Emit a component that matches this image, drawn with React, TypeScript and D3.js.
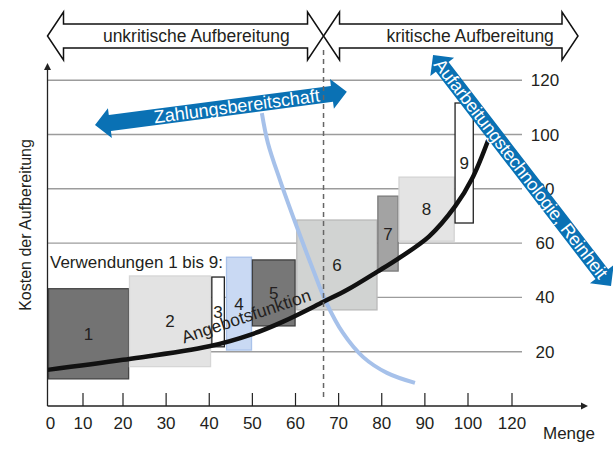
import React from 'react';
import * as d3 from 'd3';

const W = 613;
const H = 455;
const FONT = '"Liberation Sans", Arial, Helvetica, sans-serif';
const INK = '#231f20';

// x axis: the last label reads "120" although it sits one step after 100
const xTickValues = [10, 20, 30, 40, 50, 60, 70, 80, 90, 100, 110];
const xTickLabels = ['0', '10', '20', '30', '40', '50', '60', '70', '80', '90', '100', '120'];
const xLabelValues = [0, 10, 20, 30, 40, 50, 60, 70, 80, 90, 100, 110];
const yTickValues = [20, 40, 60, 80, 100, 120];

// phases on top
const phaseBounds = [0, 66.5, 125];
const phaseLabels = ['unkritische Aufbereitung', 'kritische Aufbereitung'];
const phaseLabelAt = [37, 100.5];

// Verwendungen 1 bis 9 (Menge von/bis, Kosten von/bis)
const useIds = ['1', '2', '3', '4', '5', '6', '7', '8', '9'];
const useX0 = [0.3, 21.5, 40.6, 44, 50, 60.3, 79.1, 84, 97];
const useX1 = [21.3, 40.3, 43.5, 49.8, 59.9, 78.9, 83.8, 96.8, 101.2];
const useLow = [10, 14.5, 21.8, 20.6, 29.5, 35.4, 49.7, 60.7, 67.4];
const useHigh = [43.2, 47.9, 47.5, 54.8, 53.8, 68.5, 77.3, 84.3, 111.6];
const useFill = ['#737373', '#e3e3e3', '#ffffff', '#c9d9f3', '#777777', '#d1d3d2', '#a3a3a3', '#e4e4e4', '#ffffff'];
const useStroke = ['#454545', '#d6d6d6', '#222222', '#a9c2ea', '#3f3f3f', '#b9b9b9', '#7a7a7a', '#d3d3d3', '#222222'];

// Angebotsfunktion
const supplyX = [0, 20, 40, 50, 57, 66.5, 72, 79, 84, 91, 97, 101, 104.6];
const supplyY = [13.3, 17, 22, 26.5, 31, 38.4, 42.8, 49.5, 54.5, 62.5, 73.5, 84, 98];

// Zahlungsbereitschaft (Nachfrage)
const demandX = [52.2, 53.6, 56.4, 60.3, 64.1, 67.2, 71, 75.7, 81.2, 87.7];
const demandY = [107.9, 96.9, 83.2, 66, 50.1, 37.9, 26.9, 18, 12.2, 8.5];

// blue double arrows: [x0, y0, x1, y1] in data units
const payArrow = [13, 103.5, 71.9, 115.7];
const techArrow = [91.9, 129.3, 132.5, 44.2];

const x = d3.scaleLinear().domain([0, 10, 20, 100, 110]).range([47.5, 83, 123, 468, 512]);
const y = d3.scaleLinear().domain([0, 120]).range([406, 80.2]);

function dblArrow(len: number, shaft: number, head: number, headLen: number) {
  const s = shaft / 2;
  const h = head / 2;
  const pts = [
    [0, 0], [headLen, -h], [headLen, -s], [len - headLen, -s], [len - headLen, -h],
    [len, 0], [len - headLen, h], [len - headLen, s], [headLen, s], [headLen, h],
  ];
  return 'M' + pts.map(p => p.join(',')).join('L') + 'Z';
}

function BlueArrow({ a, label, shift, textLen }: { a: number[]; label: string; shift: number; textLen?: number }) {
  const x0 = x(a[0]), y0 = y(a[1]), x1 = x(a[2]), y1 = y(a[3]);
  const len = Math.hypot(x1 - x0, y1 - y0);
  const ang = (Math.atan2(y1 - y0, x1 - x0) * 180) / Math.PI;
  return (
    <g transform={`translate(${x0},${y0}) rotate(${ang})`}>
      <path d={dblArrow(len, 16, 30, 15)} fill="#0a71b4" />
      <text
        x={len / 2 + shift}
        y={6}
        textAnchor="middle"
        fill="#ffffff"
        fontSize={18}
        textLength={textLen}
        lengthAdjust="spacing"
      >
        {label}
      </text>
    </g>
  );
}

export default function App() {
  const supplyLine = d3.line<number>().x(i => x(supplyX[i])).y(i => y(supplyY[i])).curve(d3.curveCatmullRom.alpha(0.5));
  const demandLine = d3.line<number>().x(i => x(demandX[i])).y(i => y(demandY[i])).curve(d3.curveCatmullRom);
  const gridRight = 522;
  const axisY = y(0);
  const axisX = x(0);
  const headTop = 12, shaftTop = 24, shaftBot = 48, headBot = 60, midY = 36;

  const outlineArrow = (xa: number, xb: number) => {
    const hl = 16;
    const pts = [
      [xa, midY], [xa + hl, headTop], [xa + hl, shaftTop], [xb - hl, shaftTop], [xb - hl, headTop],
      [xb, midY], [xb - hl, headBot], [xb - hl, shaftBot], [xa + hl, shaftBot], [xa + hl, headBot],
    ];
    return 'M' + pts.map(p => p.join(',')).join('L') + 'Z';
  };

  return (
    <div style={{ position: 'absolute', left: 0, top: 0 }}>
      <svg width={W} height={H} style={{ display: 'block', background: '#fff' }} fontFamily={FONT}>
        {/* grid */}
        {yTickValues.map(v => (
          <line key={v} x1={axisX} x2={gridRight} y1={y(v)} y2={y(v)} stroke="#9c9c9c" strokeWidth={1.4} />
        ))}
        {yTickValues.map(v => (
          <text key={'l' + v} x={545} y={y(v) + 6} textAnchor="middle" fontSize={17} fill={INK}>
            {v}
          </text>
        ))}

        {/* Verwendungen */}
        {useIds.map((id, i) => (
          <rect
            key={id}
            x={x(useX0[i])}
            y={y(useHigh[i])}
            width={x(useX1[i]) - x(useX0[i])}
            height={y(useLow[i]) - y(useHigh[i])}
            fill={useFill[i]}
            stroke={useStroke[i]}
            strokeWidth={1.3}
          />
        ))}
        {useIds.map((id, i) => (
          <text
            key={'t' + id}
            x={(x(useX0[i]) + x(useX1[i])) / 2}
            y={(y(useLow[i]) + y(useHigh[i])) / 2 + 6}
            textAnchor="middle"
            fontSize={17}
            fill={INK}
          >
            {id}
          </text>
        ))}
        <text x={50} y={268} fontSize={17} fill={INK}>Verwendungen 1 bis 9:</text>

        {/* demand & supply */}
        <path d={demandLine(d3.range(demandX.length)) || ''} fill="none" stroke="#a6c1ea" strokeWidth={4} />
        <path d={supplyLine(d3.range(supplyX.length)) || ''} fill="none" stroke="#111" strokeWidth={4.5} />
        <text
          transform={`translate(${x(49)},${y(31)}) rotate(-18.7)`}
          textAnchor="middle"
          fontSize={17.5}
          fill={INK}
        >
          Angebotsfunktion
        </text>

        <BlueArrow a={payArrow} label="Zahlungsbereitschaft" shift={16} />

        {/* threshold */}
        <line
          x1={x(phaseBounds[1])}
          x2={x(phaseBounds[1])}
          y1={50}
          y2={axisY - 6}
          stroke="#666"
          strokeWidth={1.5}
          strokeDasharray="5,4"
        />

        <BlueArrow a={techArrow} label="Aufarbeitungstechnologie, Reinheit" shift={-2} textLen={272} />

        {/* phase arrows */}
        {phaseLabels.map((lab, i) => (
          <g key={lab}>
            <path
              d={outlineArrow(x(phaseBounds[i]), x(phaseBounds[i + 1]))}
              fill="#fff"
              stroke="#111"
              strokeWidth={1.5}
              strokeLinejoin="miter"
            />
            <text x={x(phaseLabelAt[i])} y={midY + 6} textAnchor="middle" fontSize={17.5} fill={INK}>
              {lab}
            </text>
          </g>
        ))}

        {/* axes */}
        <line x1={axisX} x2={584} y1={axisY} y2={axisY} stroke="#222" strokeWidth={1.3} />
        <path d={`M588,${axisY}L581,${axisY - 3.5}L581,${axisY + 3.5}Z`} fill="#222" />
        <line x1={axisX} x2={axisX} y1={axisY} y2={68} stroke="#222" strokeWidth={1.3} />
        <path d={`M${axisX},63L${axisX - 3.5},70L${axisX + 3.5},70Z`} fill="#222" />
        {xTickValues.map(v => (
          <line key={'xt' + v} x1={x(v)} x2={x(v)} y1={axisY} y2={axisY - 13} stroke="#222" strokeWidth={1.2} />
        ))}
        {xLabelValues.map((v, i) => (
          <text key={'xl' + v} x={x(v) + (i === 0 ? 3 : 0)} y={axisY + 23} textAnchor="middle" fontSize={17} fill={INK}>
            {xTickLabels[i]}
          </text>
        ))}
        <text x={543} y={439} fontSize={17} fill={INK}>Menge</text>
        <text transform={`translate(31,225) rotate(-90)`} textAnchor="middle" fontSize={16} fill={INK}>
          Kosten der Aufbereitung
        </text>
      </svg>
    </div>
  );
}
